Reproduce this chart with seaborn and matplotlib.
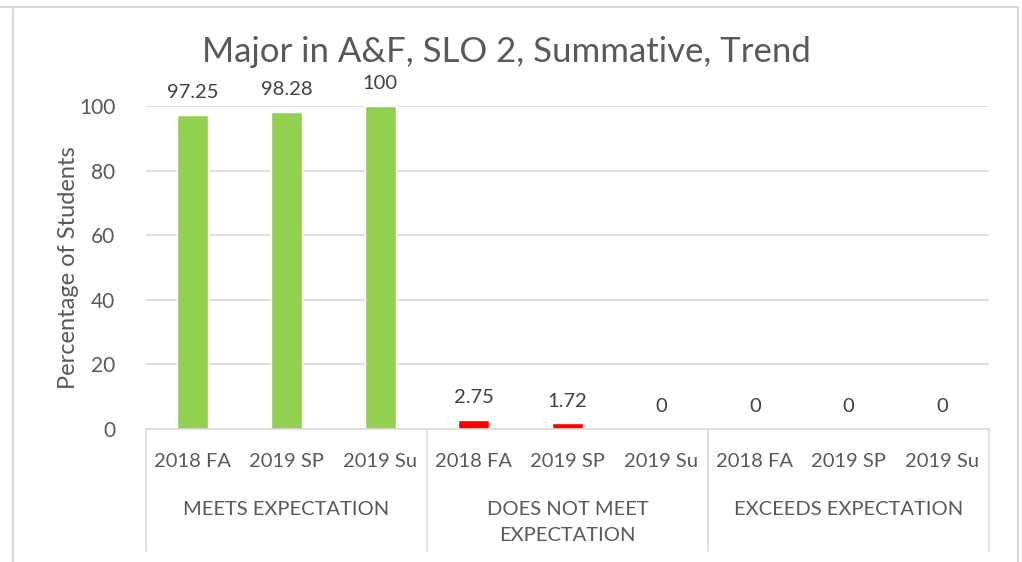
import matplotlib
matplotlib.use("Agg")
import matplotlib.pyplot as plt
import matplotlib.transforms as mtransforms
from matplotlib.lines import Line2D
import pandas as pd
import seaborn as sns

groups = ["MEETS EXPECTATION", "DOES NOT MEET\nEXPECTATION", "EXCEEDS EXPECTATION"]
terms = ["2018 FA", "2019 SP", "2019 Su"]
meets = [97.25, 98.28, 100]
not_meet = [2.75, 1.72, 0]
exceeds = [0, 0, 0]
group_colors = ["#92D050", "#FF0000", "#4472C4"]

rows = []
for g, vals in zip(groups, [meets, not_meet, exceeds]):
    for t, v in zip(terms, vals):
        rows.append({"key": g + "|" + t, "term": t, "group": g, "value": v})
df = pd.DataFrame(rows)

sns.set_style("white")
plt.rcParams["font.family"] = ["Lato", "DejaVu Sans"]
grey = "#595959"
line_grey = "#D9D9D9"

W, H = 1022, 562
fig = plt.figure(figsize=(W / 100, H / 100), dpi=100)
ax = fig.add_axes([146 / W, 1 - 429 / H, (989 - 146) / W, (429 - 106) / H])

sns.barplot(data=df, x="key", y="value", hue="group", palette=group_colors,
            dodge=False, width=0.33, legend=False, ax=ax, saturation=1)

ax.set_xlim(-0.5, len(df) - 0.5)
ax.set_ylim(0, 100)
ax.set_yticks(range(0, 101, 20))
ax.yaxis.grid(True, color=line_grey, linewidth=1.2)
ax.set_axisbelow(True)
for s in ["top", "right", "left"]:
    ax.spines[s].set_visible(False)
ax.spines["bottom"].set_color(line_grey)
ax.spines["bottom"].set_linewidth(1.2)
ax.tick_params(axis="y", length=0, labelsize=15, labelcolor=grey, pad=22)
ax.tick_params(axis="x", length=0, labelsize=14.5, labelcolor=grey, pad=17)
ax.set_xticks(range(len(df)))
ax.set_xticklabels(df["term"])
ax.set_xlabel("")
ax.set_ylabel("Percentage of Students", fontsize=17, color=grey, labelpad=0)

# data labels
for i, v in enumerate(df["value"]):
    ax.annotate(f"{v:g}", (i, v), xytext=(0, 10), textcoords="offset points",
                ha="center", va="bottom", fontsize=14.5, color="#404040",
                annotation_clip=False)

# group labels and separators
trans = mtransforms.blended_transform_factory(ax.transData, ax.transAxes)
for k, g in enumerate(groups):
    ax.text(3 * k + 1, -0.224, g, transform=trans, ha="center", va="top",
            fontsize=14.5, color=grey, linespacing=1.65)
sep_bottom = -(551 - 429) / (429 - 106)
for k in range(len(groups) + 1):
    x = 3 * k - 0.5
    ax.plot([x, x], [0, sep_bottom], transform=trans, color=line_grey,
            linewidth=1.2, clip_on=False)

fig.text(0.5 - 5 / W, 1 - 52 / H, "Major in A&F, SLO 2, Summative, Trend",
         fontsize=25, color=grey, ha="center", va="center")

# chart frame
for xs, ys in [([0, 1018], [7, 7]), ([12.5, 12.5], [7, H]), ([1018, 1018], [7, H])]:
    fig.lines.append(Line2D([x / W for x in xs], [1 - y / H for y in ys],
                            transform=fig.transFigure, color=line_grey,
                            linewidth=1.5))

fig.savefig("out.png", dpi=100)
